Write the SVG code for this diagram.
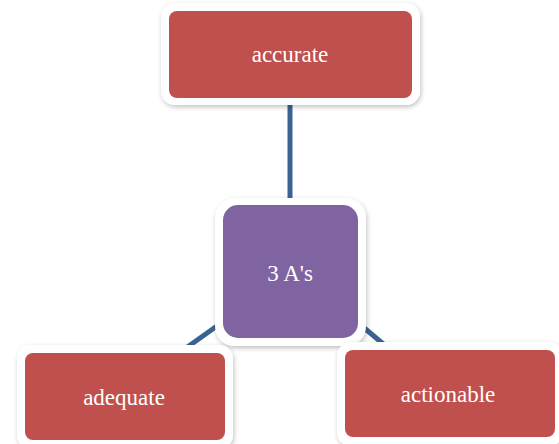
<svg xmlns="http://www.w3.org/2000/svg" width="559" height="444" viewBox="0 0 559 444">
<style>
.frame{fill:#ffffff;filter:url(#sh)}
.red{fill:#c0504d}
.purple{fill:#8064a2}
.lbl{font-family:"Liberation Serif","Times New Roman",serif;font-size:23px;fill:#ffffff;text-anchor:middle}
.conn{stroke:#3b6291;stroke-width:5;fill:none}
</style>
<defs>
<filter id="sh" x="-10%" y="-10%" width="120%" height="120%">
<feGaussianBlur in="SourceAlpha" stdDeviation="2.5"/>
<feOffset dx="1" dy="2"/>
<feComponentTransfer><feFuncA type="linear" slope="0.25"/></feComponentTransfer>
<feMerge><feMergeNode/><feMergeNode in="SourceGraphic"/></feMerge>
</filter>
</defs>
<g id="connectors">
<line class="conn" x1="290" y1="100" x2="290" y2="210"/>
<line class="conn" x1="224" y1="321" x2="186" y2="348"/>
<line class="conn" x1="356" y1="321" x2="388" y2="348"/>
</g>
<g id="accurate">
<rect class="frame" x="161" y="3" width="259" height="102" rx="14"/>
<rect class="red" x="169" y="11" width="243" height="87" rx="8"/>
<text class="lbl" x="290" y="62">accurate</text>
</g>
<g id="center">
<rect class="frame" x="215" y="198" width="151" height="148" rx="20"/>
<rect class="purple" x="223" y="205" width="135" height="133" rx="15"/>
<text class="lbl" x="290" y="281">3 A's</text>
</g>
<g id="adequate">
<rect class="frame" x="17" y="345" width="216" height="104" rx="14"/>
<rect class="red" x="25" y="353" width="200" height="87" rx="8"/>
<text class="lbl" x="124" y="405">adequate</text>
</g>
<g id="actionable">
<rect class="frame" x="337" y="342" width="226" height="104" rx="14"/>
<rect class="red" x="345" y="350" width="210" height="87" rx="8"/>
<text class="lbl" x="448" y="402">actionable</text>
</g>
</svg>
